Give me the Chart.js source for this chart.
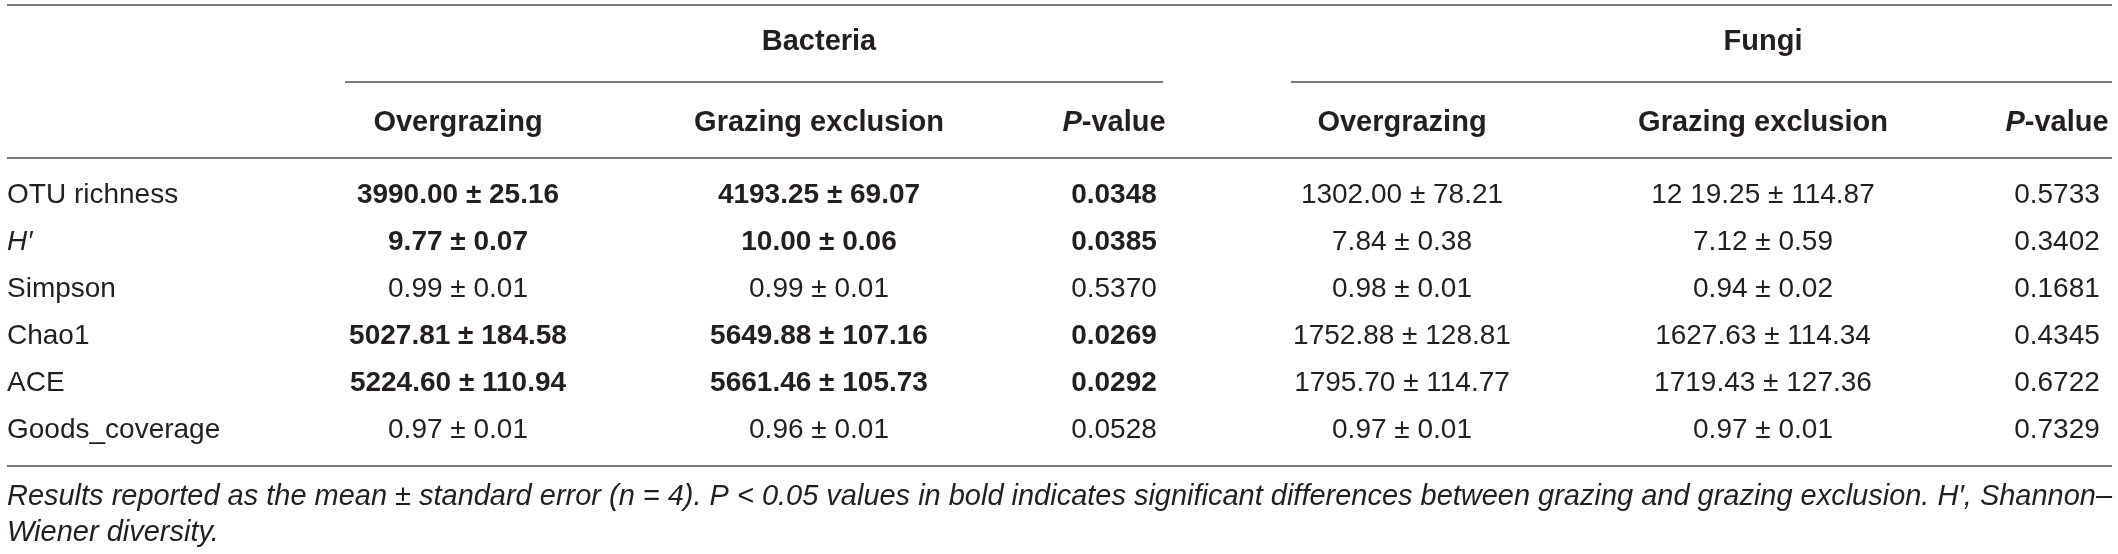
<!DOCTYPE html>
<html>
<head>
<meta charset="utf-8">
<script src="https://cdn.jsdelivr.net/npm/chart.js@4.4.1/dist/chart.umd.min.js"></script>
<style>
  html, body { margin: 0; padding: 0; background: #fff; }
  #wrap { width: 2118px; height: 554px; position: relative; }
</style>
</head>
<body>
<div id="wrap"><canvas id="alpha-table"></canvas></div>
<script>
// 표 데이터 (세균 / 곰팡이 알파 다양성)
const rowNames = ['OTU richness', 'H\u2032', 'Simpson', 'Chao1', 'ACE', 'Goods_coverage'];
const groupNames = ['Bacteria', 'Fungi'];
const colHeads = ['Overgrazing', 'Grazing exclusion', 'P-value'];

const bacOverMean = ['3990.00', '9.77', '0.99', '5027.81', '5224.60', '0.97'];
const bacOverSE   = ['25.16', '0.07', '0.01', '184.58', '110.94', '0.01'];
const bacExclMean = ['4193.25', '10.00', '0.99', '5649.88', '5661.46', '0.96'];
const bacExclSE   = ['69.07', '0.06', '0.01', '107.16', '105.73', '0.01'];
const bacP        = [0.0348, 0.0385, 0.5370, 0.0269, 0.0292, 0.0528];

const fungOverMean = ['1302.00', '7.84', '0.98', '1752.88', '1795.70', '0.97'];
const fungOverSE   = ['78.21', '0.38', '0.01', '128.81', '114.77', '0.01'];
const fungExclMean = ['12 19.25', '7.12', '0.94', '1627.63', '1719.43', '0.97'];
const fungExclSE   = ['114.87', '0.59', '0.02', '114.34', '127.36', '0.01'];
const fungP        = [0.5733, 0.3402, 0.1681, 0.4345, 0.6722, 0.7329];

const footLines = [
    'Results reported as the mean \u00b1 standard error (n = 4). P < 0.05 values in bold indicates significant differences between grazing and grazing exclusion. H\u2032, Shannon\u2013',
    'Wiener diversity.'
];

// 레이아웃 (열 중심 x, 그룹 밑줄 범위)
const colX = [458, 819, 1114, 1402, 1763, 2057];
const groupSpan = [[345, 1163], [1291, 2112]];
const tableEdge = [7, 2112];

const TEXT = '#231f20';
const RULE = '#7a7a7a';
const FAMILY = '"Liberation Sans", Arial, sans-serif';

// 셀 문자열 만들기
const pm = (m, s) => m.map((v, i) => `${v} \u00b1 ${s[i]}`);
const fmtP = p => p.map(v => v.toFixed(4));
const cellCols = [
    pm(bacOverMean, bacOverSE), pm(bacExclMean, bacExclSE), fmtP(bacP),
    pm(fungOverMean, fungOverSE), pm(fungExclMean, fungExclSE), fmtP(fungP)
];
const colP = [bacP, bacP, bacP, fungP, fungP, fungP];

const tablePlugin = {
    id: 'tableText',
    afterDatasetsDraw(chart) {
        const ctx = chart.ctx;
        const xs = chart.scales.x;
        const area = chart.chartArea;
        const px = v => xs.getPixelForValue(v);

        ctx.save();
        ctx.textBaseline = 'middle';
        ctx.textAlign = 'center';
        ctx.fillStyle = TEXT;

        // 1. 셀 값 (데이터셋 점 위치에서 그림)
        chart.data.datasets.forEach((ds, c) => {
            const meta = chart.getDatasetMeta(c);
            meta.data.forEach((pt, i) => {
                const bold = colP[c][i] < 0.05;
                ctx.font = `${bold ? 'bold ' : ''}28px ${FAMILY}`;
                ctx.fillText(cellCols[c][i], pt.x, pt.y);
            });
        });

        // 2. 헤더
        const headY = area.top - 48.5;
        const groupY = area.top - 129.5;
        groupNames.forEach((g, k) => {
            ctx.font = `bold 29px ${FAMILY}`;
            ctx.textAlign = 'center';
            ctx.fillText(g, px(colX[k * 3 + 1]), groupY);
            colHeads.forEach((h, j) => {
                const cx = px(colX[k * 3 + j]);
                if (j === 2) {
                    // 이탤릭 P + '-value'
                    ctx.font = `italic bold 29px ${FAMILY}`;
                    const w1 = ctx.measureText('P').width;
                    ctx.font = `bold 29px ${FAMILY}`;
                    const w2 = ctx.measureText('-value').width;
                    const x0 = cx - (w1 + w2) / 2;
                    ctx.textAlign = 'left';
                    ctx.font = `italic bold 29px ${FAMILY}`;
                    ctx.fillText('P', x0, headY);
                    ctx.font = `bold 29px ${FAMILY}`;
                    ctx.fillText('-value', x0 + w1, headY);
                    ctx.textAlign = 'center';
                } else {
                    ctx.fillText(h, cx, headY);
                }
            });
        });

        // 3. 가로 괘선
        ctx.strokeStyle = RULE;
        ctx.lineWidth = 2;
        const hline = (x1, x2, y) => {
            ctx.beginPath();
            ctx.moveTo(px(x1), y);
            ctx.lineTo(px(x2), y);
            ctx.stroke();
        };
        hline(tableEdge[0], tableEdge[1], 5);
        groupSpan.forEach(s => hline(s[0], s[1], area.top - 89.5));
        hline(tableEdge[0], tableEdge[1], area.top - 13.5);
        hline(tableEdge[0], tableEdge[1], area.bottom + 12.5);

        // 4. 각주 (첫 줄은 표 폭에 맞춤)
        ctx.font = `italic 29px ${FAMILY}`;
        ctx.textAlign = 'left';
        const fullW = px(tableEdge[1]) - px(tableEdge[0]);
        ctx.fillText(footLines[0], px(tableEdge[0]), area.bottom + 43.5, fullW);
        ctx.fillText(footLines[1], px(tableEdge[0]), area.bottom + 79.5);
        ctx.restore();
    }
};

new Chart(document.getElementById('alpha-table'), {
    type: 'scatter',
    data: {
        datasets: cellCols.map((col, c) => ({
            label: c < 3 ? `${groupNames[0]} ${colHeads[c]}` : `${groupNames[1]} ${colHeads[c - 3]}`,
            data: rowNames.map(r => ({ x: colX[c], y: r })),
            pointRadius: 0,
            pointHoverRadius: 0
        }))
    },
    options: {
        responsive: true,
        maintainAspectRatio: false,
        animation: false,
        devicePixelRatio: 1,
        layout: { padding: { top: 171.5, bottom: 100.5, left: 0, right: 0 } },
        plugins: { legend: { display: false }, tooltip: { enabled: false } },
        scales: {
            x: { type: 'linear', min: 0, max: 2118, display: false },
            y: {
                type: 'category',
                labels: rowNames,
                offset: true,
                grid: { display: false, drawTicks: false },
                border: { display: false },
                afterFit: s => { s.width = 0; },
                ticks: {
                    mirror: true,
                    padding: 7,
                    color: TEXT,
                    autoSkip: false,
                    font: c => ({ family: FAMILY, size: 28, style: c.index === 1 ? 'italic' : 'normal' })
                }
            }
        }
    },
    plugins: [tablePlugin]
});
</script>
</body>
</html>
